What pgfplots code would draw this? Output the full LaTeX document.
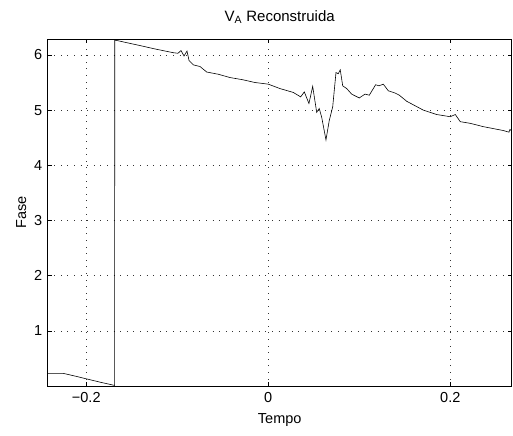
\documentclass[border=0pt]{standalone}
\usepackage{pgfplots}
\pgfplotsset{compat=1.18}
\usepackage{fontspec}
\setmainfont{Liberation Sans}
\begin{document}
\begin{tikzpicture}
\begin{axis}[
  name=ax,
  scale only axis,
  width=464pt, height=346.7pt,
  xmin=-0.2424, xmax=0.2675,
  ymin=0, ymax=6.2832,
  xtick={-0.2,0,0.2},
  xticklabels={−0.2,0,0.2},
  ytick={1,2,3,4,5,6},
  /pgf/number format/assume math mode=true,
  tick align=inside,
  major tick length=4pt,
  tick style={black, line width=0.5pt},
  axis line style={black, line width=0.6pt},
  grid=major,
  major grid style={black!80, line width=0.5pt, dash pattern=on 0.8pt off 5.8pt},
  ticklabel style={font=\fontsize{14.5}{16}\selectfont},
  xticklabel style={yshift=-3pt},
  yticklabel style={xshift=-2pt},
  label style={font=\fontsize{14.5}{16}\selectfont},
  title style={font=\fontsize{15}{17}\selectfont, yshift=6pt},
  title={V\textsubscript{A} Reconstruida},
  xlabel={Tempo},
  ylabel={Fase},
  xlabel style={yshift=-4pt},
  ylabel style={yshift=1pt},
]
\addplot[black, line width=0.6pt] coordinates {
(-0.2424,0.23) (-0.2256,0.23) (-0.2124,0.18) (-0.2,0.13) (-0.185,0.07) (-0.1688,0.01)
(-0.16875,6.27) (-0.155,6.22) (-0.141,6.17) (-0.125,6.11) (-0.1044,6.04) (-0.0992,6.03) (-0.0959,6.08) (-0.0926,5.98)
(-0.0893,6.07) (-0.0871,5.90) (-0.0824,5.82) (-0.075,5.79) (-0.0677,5.69) (-0.055,5.65) (-0.0421,5.59) (-0.028,5.55) (-0.0146,5.50)
(0.0,5.47) (0.0129,5.39) (0.0275,5.32) (0.0356,5.24) (0.0396,5.33) (0.0447,5.12)
(0.0488,5.43) (0.0532,4.96) (0.0560,5.03) (0.0587,4.87) (0.0634,4.46) (0.0670,4.81)
(0.0708,5.06) (0.0744,5.68) (0.0769,5.66) (0.0791,5.73) (0.0818,5.44) (0.0862,5.39)
(0.0916,5.29) (0.1000,5.22) (0.1063,5.29) (0.1110,5.27) (0.1180,5.46) (0.1216,5.44)
(0.1264,5.47) (0.1319,5.35) (0.1392,5.31) (0.1440,5.27) (0.1521,5.16) (0.1703,5.00)
(0.1851,4.92) (0.2,4.88) (0.2055,4.92) (0.2110,4.79) (0.222,4.76) (0.2363,4.70)
(0.2582,4.63) (0.2645,4.60) (0.2656,4.65) (0.2675,4.62)
};
\end{axis}
\path[use as bounding box] ([shift={(-47.7pt,-50pt)}]ax.south west) rectangle ([shift={(1.3pt,39.3pt)}]ax.north east);
\end{tikzpicture}
\end{document}
